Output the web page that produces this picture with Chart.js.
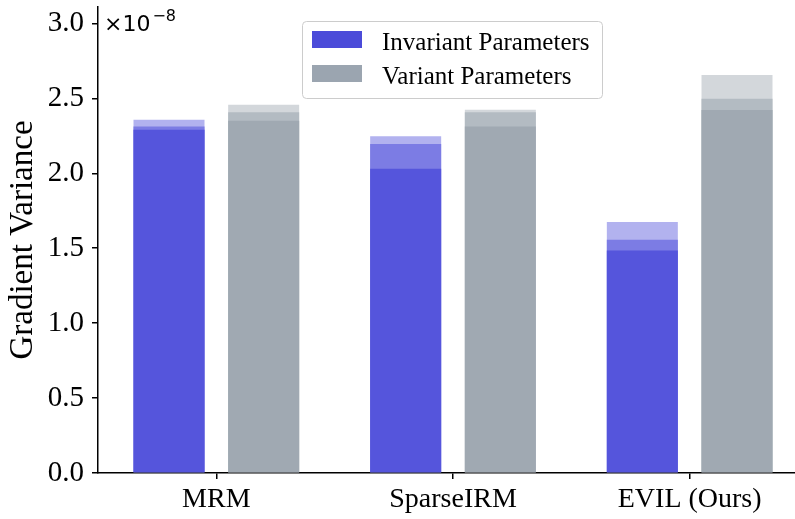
<!DOCTYPE html>
<html>
<head>
<meta charset="utf-8">
<script src="https://cdn.jsdelivr.net/npm/chart.js@4.4.1/dist/chart.umd.min.js"></script>
<style>
  html, body { margin: 0; padding: 0; background: #ffffff; overflow: hidden; }
  #wrap { width: 795px; height: 519px; overflow: hidden; }
  canvas { display: block; }
</style>
</head>
<body>
<div id="wrap"><canvas id="c" width="808" height="519"></canvas></div>
<script>
// Methods on the x axis
const categories = ['MRM', 'SparseIRM', 'EVIL (Ours)'];

// Gradient variance (in units of 1e-8), three overlaid runs per bar
const invariantLow  = [2.290, 2.030, 1.485];
const invariantMid  = [2.313, 2.196, 1.556];
const invariantHigh = [2.358, 2.247, 1.675];

const variantLow  = [2.351, 2.313, 2.423];
const variantMid  = [2.407, 2.407, 2.498];
const variantHigh = [2.458, 2.425, 2.657];

// Y axis ticks
const yTicks = [0.0, 0.5, 1.0, 1.5, 2.0, 2.5, 3.0];

const legendLabels = ['Invariant Parameters', 'Variant Parameters'];

const BLUE = ['#5555dc', '#7c7ce4', '#b2b2ef'];
const GREY = ['#a0a9b2', '#b3bbc2', '#d3d7db'];
const LEGEND_COLORS = ['#4b4bd9', '#9ba5b0'];

const SERIF = '"Liberation Serif", "Times New Roman", serif';

function ds(data, stack, color) {
  return { data, stack, backgroundColor: color, borderWidth: 0,
           categoryPercentage: 0.8, barPercentage: 0.75 };
}

// Frame-style legend and the scientific offset label
const decorations = {
  id: 'decorations',
  afterDraw(chart) {
    const ctx = chart.ctx;
    ctx.save();
    // legend frame
    ctx.beginPath();
    ctx.roundRect(302.5, 21.5, 300, 77, 4);
    ctx.fillStyle = 'rgba(255,255,255,0.8)';
    ctx.fill();
    ctx.strokeStyle = '#cccccc';
    ctx.lineWidth = 1;
    ctx.stroke();
    const rows = [50, 84];
    legendLabels.forEach((lab, i) => {
      ctx.fillStyle = LEGEND_COLORS[i];
      ctx.fillRect(312, rows[i] - 19, 50, 17);
      ctx.fillStyle = '#000000';
      ctx.font = '25px ' + SERIF;
      ctx.textAlign = 'left';
      ctx.textBaseline = 'alphabetic';
      ctx.fillText(lab, 382, rows[i]);
    });
    // offset text ×10^-8
    ctx.fillStyle = '#000000';
    ctx.font = '22px "DejaVu Sans"';
    ctx.fillText('\u00d710', 104, 31);
    const w = ctx.measureText('\u00d710').width;
    ctx.font = '16px "DejaVu Sans"';
    ctx.fillText('\u22128', 104 + w + 2, 21);
    ctx.restore();
  }
};

new Chart(document.getElementById('c'), {
  type: 'bar',
  data: {
    labels: categories,
    datasets: [
      ds(invariantLow,  'inv', BLUE[0]),
      ds(invariantMid,  'inv', BLUE[1]),
      ds(invariantHigh, 'inv', BLUE[2]),
      ds(variantLow,  'var', GREY[0]),
      ds(variantMid,  'var', GREY[1]),
      ds(variantHigh, 'var', GREY[2])
    ]
  },
  options: {
    responsive: false,
    animation: false,
    devicePixelRatio: 1,
    layout: { padding: { top: 7, right: 0, left: 0, bottom: 0 } },
    plugins: { legend: { display: false }, tooltip: { enabled: false } },
    scales: {
      x: {
        grid: { display: true, drawOnChartArea: false, offset: false,
                color: '#000000', lineWidth: 1.5, tickLength: 6 },
        border: { display: true, color: '#000000', width: 1.5 },
        ticks: { color: '#000000', font: { family: SERIF, size: 28 }, padding: 4,
                 maxRotation: 0, autoSkip: false },
        afterFit(s) { s.height = 46; s.paddingLeft = 0; s.paddingRight = 0; }
      },
      y: {
        stacked: false,
        min: 0,
        max: 3.11,
        grid: { display: true, drawOnChartArea: false,
                color: '#000000', lineWidth: 1.5, tickLength: 6 },
        border: { display: true, color: '#000000', width: 1.5 },
        afterBuildTicks(s) { s.ticks = yTicks.map(v => ({ value: v })); },
        ticks: { color: '#000000', font: { family: SERIF, size: 29 }, padding: 8,
                 callback: v => Number(v).toFixed(1) },
        title: { display: true, text: 'Gradient Variance', color: '#000000',
                 font: { family: SERIF, size: 33 }, padding: { top: 4, bottom: 0 } },
        afterFit(s) { s.width = 98; s.paddingTop = 0; s.paddingBottom = 0; }
      }
    }
  },
  plugins: [decorations]
});
</script>
</body>
</html>
